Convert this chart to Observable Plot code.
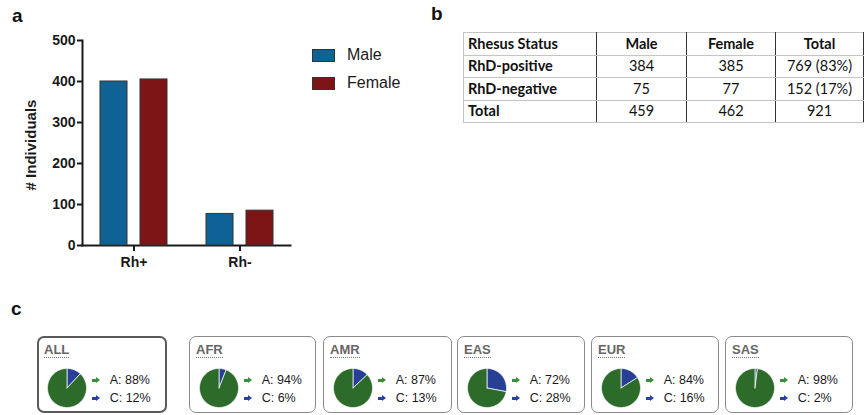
<!DOCTYPE html>
<html><head><meta charset="utf-8">
<script src="https://cdn.jsdelivr.net/npm/d3@7"></script>
<script src="https://cdn.jsdelivr.net/npm/@observablehq/plot@0.6"></script>
<style>
html,body{margin:0;padding:0;background:#fff;}
body{width:865px;height:415px;position:relative;overflow:hidden;font-family:"Liberation Sans",Arial,sans-serif;color:#1a1a1a;}
.plabel{position:absolute;font-weight:bold;font-size:19px;line-height:1;color:#111;}
#chartA{position:absolute;left:0;top:0;}
#chartA svg text{font-size:14px !important;font-weight:bold;}
#chartA g[aria-label*="tick"], #chartA g[aria-label*="tick"] *, #chartA g[aria-label*="frame"], #chartA g[aria-label*="frame"] *, #chartA [aria-label="frame"]{stroke-width:2px;}
.ylab{position:absolute;left:30px;top:145px;transform:translate(-50%,-50%) rotate(-90deg);font-weight:bold;font-size:15px;line-height:1;white-space:nowrap;color:#1a1a1a;}
.leg{position:absolute;font-size:16px;line-height:1;}
.sw{position:absolute;width:21px;height:11px;border:1px solid #333;}
table.rh{position:absolute;left:463px;top:32px;border-collapse:collapse;table-layout:fixed;font-family:Lato,"Open Sans",sans-serif;font-size:14.5px;color:#111;}
table.rh td{height:21.5px;padding:0 4px;border-top:1px solid #c4c4c4;border-bottom:1px solid #c4c4c4;border-left:1.5px solid #333;border-right:1.5px solid #333;text-align:center;line-height:1;vertical-align:middle;}
table.rh td.first{text-align:left;font-weight:bold;border-left:1px solid #c4c4c4;}
table.rh tr.head td{font-weight:bold;}
.box{position:absolute;top:336px;height:77px;box-sizing:border-box;border:1px solid #8a8a8a;border-radius:7px;background:#fff;}
.box.all{border:2px solid #5a5a5a;}
.ttl{position:absolute;font-weight:bold;font-size:13px;line-height:1;color:#666;padding-bottom:1px;border-bottom:1px dotted #777;}
.pct{position:absolute;font-size:12.5px;line-height:1;color:#1a1a1a;white-space:nowrap;}
.arr{position:absolute;width:4px;height:3.5px;}
.arr::after{content:"";position:absolute;left:4px;top:-2px;border-top:3.75px solid transparent;border-bottom:3.75px solid transparent;border-left:4px solid currentColor;}
.pie{position:absolute;}
</style></head>
<body>
<div class="plabel" style="left:12px;top:6px;">a</div>
<div class="plabel" style="left:431px;top:4px;">b</div>
<div class="plabel" style="left:11px;top:299px;">c</div>
<div id="chartA"></div>
<div class="ylab"># Individuals</div>
<div id="legendA"></div>
<div id="tableB"></div>
<div id="panelC"></div>
<script>
// ---- Panel a data ----
const rhCategories = ["Rh+", "Rh-"];
const sexes = ["Male", "Female"];
const maleCounts = [400, 77];
const femaleCounts = [405, 85];
const sexColors = ["#0f6296", "#7d1517"];
const yTicks = [0, 100, 200, 300, 400, 500];

// ---- Panel b data ----
const tableHeader = ["Rhesus Status", "Male", "Female", "Total"];
const tableRowLabels = ["RhD-positive", "RhD-negative", "Total"];
const tableMale = ["384", "75", "459"];
const tableFemale = ["385", "77", "462"];
const tableTotal = ["769 (83%)", "152 (17%)", "921"];
const tableColWidths = [133, 90, 89, 88];

// ---- Panel c data ----
const populations = ["ALL", "AFR", "AMR", "EAS", "EUR", "SAS"];
const alleleA = [88, 94, 87, 72, 84, 98];
const alleleC = [12, 6, 13, 28, 16, 2];
const alleleNames = ["A", "C"];
const alleleColors = ["#2d6b2a", "#283f96"];
const arrowColors = ["#3a8f3a", "#2a3fa6"];
const boxLefts = [37, 189, 323, 457, 591, 725];
const boxWidths = [130, 127, 129, 128, 128, 128];

// ---- Panel a chart ----
const barData = rhCategories.flatMap((rh, i) => [
  {rh, sex: "Male", n: maleCounts[i]},
  {rh, sex: "Female", n: femaleCounts[i]}
]);
const chartA = Plot.plot({
  width: 300, height: 280,
  marginLeft: 82, marginRight: 10, marginTop: 40, marginBottom: 35,
  style: {fontFamily: "Liberation Sans, Arial, sans-serif", fontWeight: "bold", fontSize: "14px", color: "#1a1a1a", background: "transparent", overflow: "visible"},
  x: {domain: rhCategories, paddingInner: 0.37, paddingOuter: 0.16, label: null, tickSize: 6, tickPadding: 6, line: true},
  y: {domain: [0, 500], ticks: yTicks, tickSize: 5, tickPadding: 2, line: true, label: null},
  color: {domain: sexes, range: sexColors},
  marks: [
    Plot.barY(barData.filter(d => d.sex === "Male"), {x: "rh", y: "n", fill: "sex", stroke: "#333", strokeWidth: 1, insetRight: 40}),
    Plot.barY(barData.filter(d => d.sex === "Female"), {x: "rh", y: "n", fill: "sex", stroke: "#333", strokeWidth: 1, insetLeft: 40})
  ]
});
document.getElementById("chartA").appendChild(chartA);

// legend
const legendA = document.getElementById("legendA");
sexes.forEach((s, i) => {
  const sw = document.createElement("div");
  sw.className = "sw";
  sw.style.left = "312px"; sw.style.top = (49 + i * 28) + "px";
  sw.style.background = sexColors[i];
  legendA.appendChild(sw);
  const t = document.createElement("div");
  t.className = "leg";
  t.style.left = "347px"; t.style.top = (47 + i * 28) + "px";
  t.textContent = s;
  legendA.appendChild(t);
});

// ---- Panel b table ----
const tbl = document.createElement("table");
tbl.className = "rh";
const cg = document.createElement("colgroup");
tableColWidths.forEach(w => { const c = document.createElement("col"); c.style.width = w + "px"; cg.appendChild(c); });
tbl.appendChild(cg);
const tb = document.createElement("tbody");
const rows = [tableHeader].concat(tableRowLabels.map((l, i) => [l, tableMale[i], tableFemale[i], tableTotal[i]]));
rows.forEach((r, ri) => {
  const tr = document.createElement("tr");
  if (ri === 0) tr.className = "head";
  r.forEach((v, ci) => { const td = document.createElement("td"); if (ci === 0) td.className = "first"; td.textContent = v; tr.appendChild(td); });
  tb.appendChild(tr);
});
tbl.appendChild(tb);
document.getElementById("tableB").appendChild(tbl);

// ---- Panel c pies ----
function piePoints(i) {
  const cFrac = alleleC[i] / 100;
  const slices = [
    {allele: "C", a0: 0, a1: cFrac * 2 * Math.PI},
    {allele: "A", a0: cFrac * 2 * Math.PI, a1: 2 * Math.PI}
  ];
  const pts = [];
  for (const s of slices) {
    pts.push({allele: s.allele, x: 0, y: 0});
    const n = Math.max(2, Math.ceil((s.a1 - s.a0) / (Math.PI / 90)));
    for (let k = 0; k <= n; k++) {
      const a = s.a0 + (s.a1 - s.a0) * k / n;
      pts.push({allele: s.allele, x: Math.sin(a), y: Math.cos(a)});
    }
    pts.push({allele: s.allele, x: 0, y: 0});
  }
  return pts;
}
const panelC = document.getElementById("panelC");
populations.forEach((p, i) => {
  const box = document.createElement("div");
  box.className = "box" + (i === 0 ? " all" : "");
  box.style.left = boxLefts[i] + "px";
  box.style.width = boxWidths[i] + "px";
  const bw = i === 0 ? 2 : 1;
  const ttl = document.createElement("div");
  ttl.className = "ttl";
  ttl.style.left = (7 - bw) + "px"; ttl.style.top = (6.5 - bw) + "px";
  ttl.textContent = p;
  box.appendChild(ttl);
  const pie = Plot.plot({
    width: 41, height: 41, margin: 1,
    style: {background: "transparent", overflow: "visible"},
    x: {domain: [-1, 1], axis: null},
    y: {domain: [-1, 1], axis: null},
    color: {domain: alleleNames, range: alleleColors},
    marks: [
      Plot.line(piePoints(i), {x: "x", y: "y", z: "allele", fill: "allele", stroke: "white", strokeWidth: 0.7, strokeLinejoin: "round"})
    ]
  });
  const pw = document.createElement("div");
  pw.className = "pie";
  pw.style.left = (29 - 20.5 - bw) + "px"; pw.style.top = (51 - 20.5 - bw) + "px";
  pw.appendChild(pie);
  box.appendChild(pw);
  const vals = [alleleA[i], alleleC[i]];
  alleleNames.forEach((a, k) => {
    const ar = document.createElement("div");
    ar.className = "arr";
    ar.style.color = arrowColors[k];
    ar.style.background = arrowColors[k];
    ar.style.left = (54.5 - bw) + "px"; ar.style.top = (42.6 + 18 * k - bw) + "px";
    box.appendChild(ar);
    const t = document.createElement("div");
    t.className = "pct";
    t.style.left = (72.7 - bw) + "px"; t.style.top = (38 + 18 * k - bw) + "px";
    t.textContent = a + ": " + vals[k] + "%";
    box.appendChild(t);
  });
  panelC.appendChild(box);
});
</script>
</body></html>
